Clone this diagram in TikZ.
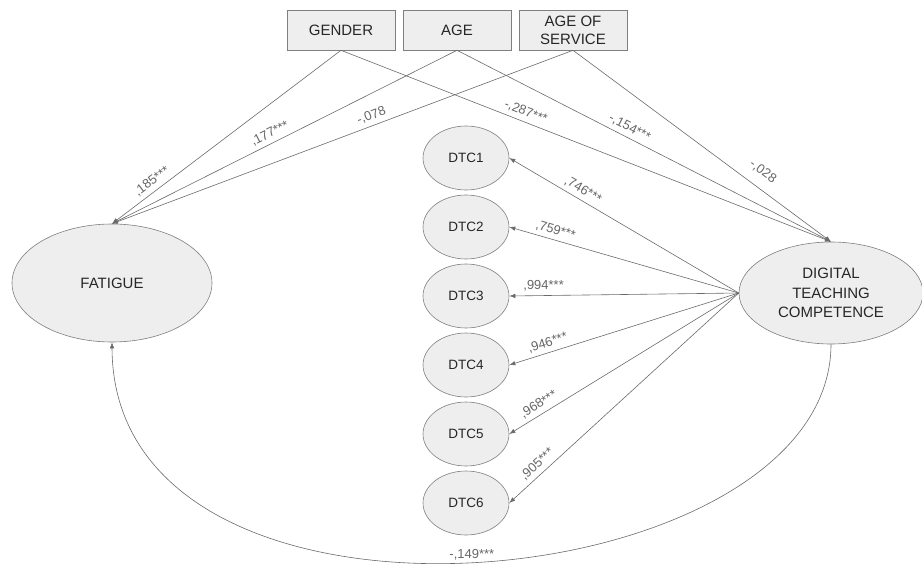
\documentclass[tikz,border=0pt]{standalone}
\usepackage{fontspec}
\setmainfont{Liberation Sans}
\usetikzlibrary{shapes.geometric,arrows.meta}
\definecolor{shade}{HTML}{EEEEEE}
\definecolor{rim}{HTML}{7F7F7F}
\definecolor{wire}{HTML}{6A6A6A}
\definecolor{coef}{HTML}{666666}
\begin{document}
\begin{tikzpicture}[x=1pt, y=-1pt,
	box/.style={draw=rim, fill=shade, line width=0.6pt, minimum width=108pt, minimum height=40pt, inner sep=0pt, align=center, font=\fontsize{15}{18}\selectfont, text=black!85},
	latent/.style={ellipse, draw=rim, fill=shade, line width=0.6pt, inner sep=0pt, align=center, font=\fontsize{15}{19.5}\selectfont, text=black!85},
	item/.style={ellipse, draw=rim, fill=shade, line width=0.6pt, inner sep=0pt, minimum width=86pt, minimum height=64pt, font=\fontsize{13.5}{16}\selectfont, text=black!85},
	path/.style={draw=wire, line width=0.6pt, -{Latex[length=6pt,width=4.5pt]}},
	weight/.style={sloped, above=3pt, inner sep=1pt, text=coef, font=\fontsize{13}{14}\selectfont}]
				\useasboundingbox (0,0) rectangle (922,565);
				\node[box] (gender) at (341,30) {GENDER};
				\node[box] (age) at (457,30) {AGE};
				\node[box] (service) at (573,30) {AGE OF\\SERVICE};
				\node[latent, minimum width=200pt, minimum height=118pt] (fatigue) at (112,283) {FATIGUE};
				\node[latent, minimum width=184pt, minimum height=102pt] (dtc) at (831,293) {DIGITAL\\TEACHING\\COMPETENCE};
				\node[item] (dtc1) at (466,158) {DTC1};
				\node[item] (dtc2) at (466,227) {DTC2};
				\node[item] (dtc3) at (466,296) {DTC3};
				\node[item] (dtc4) at (466,365) {DTC4};
				\node[item] (dtc5) at (466,434) {DTC5};
				\node[item] (dtc6) at (466,503) {DTC6};
				\draw[path] (gender.south) -- node[weight, pos=0.80] (wgf) {,185***} (fatigue.north);
				\draw[path] (age.south) -- node[weight, pos=0.53] (waf) {,177***} (fatigue.north);
				\draw[path] (service.south) -- node[weight, pos=0.43] (wsf) {-,078} (fatigue.north);
				\draw[path] (gender.south) -- node[weight, pos=0.37] (wgd) {-,287***} (dtc.north);
				\draw[path] (age.south) -- node[weight, pos=0.45] (wad) {-,154***} (dtc.north);
				\draw[path] (service.south) -- node[weight, pos=0.70, above=6pt] (wsd) {-,028} (dtc.north);
				\draw[path] (dtc.west) -- node[weight, pos=0.70] (w1) {,746***} (dtc1.east);
				\draw[path] (dtc.west) -- node[weight, pos=0.81] (w2) {,759***} (dtc2.east);
				\draw[path] (dtc.west) -- node[weight, pos=0.85] (w3) {,994***} (dtc3.east);
				\draw[path] (dtc.west) -- node[weight, pos=0.82] (w4) {,946***} (dtc4.east);
				\draw[path] (dtc.west) -- node[weight, pos=0.85] (w5) {,968***} (dtc5.east);
				\draw[path] (dtc.west) -- node[weight, pos=0.85] (w6) {,905***} (dtc6.east);
				\draw[path] (dtc.south) .. controls (831,600) and (113,670) .. node[pos=0.5, above=1pt, inner sep=1pt, text=coef, font=\fontsize{13}{14}\selectfont] (wcov) {-,149***} (fatigue.south);
			\end{tikzpicture}
\end{document}
